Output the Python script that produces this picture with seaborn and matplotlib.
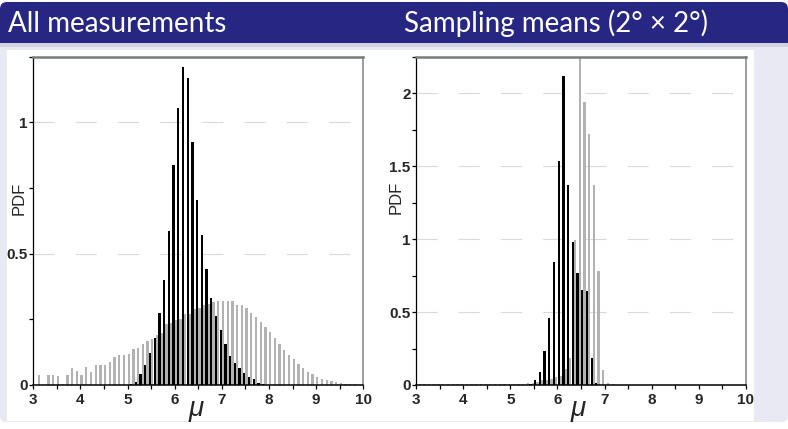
import numpy as np
import pandas as pd
import matplotlib
matplotlib.use("Agg")
import matplotlib.pyplot as plt
from matplotlib.patches import FancyBboxPatch, Rectangle
from matplotlib.transforms import IdentityTransform, blended_transform_factory
import seaborn as sns

# ---------------- data ----------------
left_mu = [round(3.0 + 0.1 * i, 2) for i in range(71)]
left_all_black = [
    0, 0, 0, 0, 0, 0, 0, 0, 0, 0,
    0, 0, 0, 0, 0, 0, 0, 0, 0, 0,
    0, 0.002, 0.010, 0.040, 0.076, 0.120, 0.180, 0.276, 0.400, 0.587,
    0.836, 1.056, 1.210, 1.170, 0.925, 0.706, 0.573, 0.441, 0.330, 0.262,
    0.209, 0.158, 0.111, 0.082, 0.063, 0.046, 0.032, 0.021, 0.009, 0.003,
    0, 0, 0, 0, 0, 0, 0, 0, 0, 0,
    0, 0, 0, 0, 0, 0, 0, 0, 0, 0,
    0,
]
left_all_gray = [
    0, 0.038, 0, 0.038, 0.038, 0.034, 0.004, 0.038, 0.063, 0.055,
    0.038, 0.067, 0.048, 0.077, 0.077, 0.077, 0.089, 0.106, 0.114, 0.115,
    0.119, 0.136, 0.141, 0.158, 0.167, 0.177, 0.189, 0.197, 0.231, 0.235,
    0.247, 0.253, 0.269, 0.270, 0.289, 0.295, 0.304, 0.310, 0.317, 0.320,
    0.321, 0.321, 0.321, 0.304, 0.304, 0.292, 0.275, 0.260, 0.241, 0.222,
    0.203, 0.180, 0.158, 0.133, 0.114, 0.098, 0.080, 0.063, 0.051, 0.041,
    0.032, 0.024, 0.019, 0.015, 0.011, 0.008, 0.005, 0.004, 0.003, 0.001,
    0,
]

right_mu = [round(3.05 + 0.1 * i, 2) for i in range(70)]
right_means_black = [
    0, 0, 0, 0, 0, 0, 0, 0, 0, 0,
    0, 0, 0, 0, 0, 0, 0, 0, 0, 0,
    0, 0, 0, 0, 0.010, 0.034, 0.091, 0.233, 0.462, 0.842,
    1.537, 2.116, 1.368, 0.979, 0.766, 0.652, 0.645, 0.188, 0.011, 0,
    0, 0, 0, 0, 0, 0, 0, 0, 0, 0,
    0, 0, 0, 0, 0, 0, 0, 0, 0, 0,
    0, 0, 0, 0, 0, 0, 0, 0, 0, 0,
]
right_means_gray = [
    0.004, 0.005, 0.004, 0.005, 0.006, 0.004, 0.005, 0.005, 0.004, 0.006,
    0.005, 0.005, 0.006, 0.005, 0.006, 0.006, 0.007, 0.006, 0.007, 0.008,
    0.008, 0.009, 0.010, 0.012, 0.014, 0.020, 0.034, 0.034, 0.039, 0.053,
    0.060, 0.110, 0.187, 0.995, 2.450, 1.940, 1.720, 1.373, 0.778, 0.103,
    0.011, 0.005, 0.003, 0.002, 0, 0, 0, 0, 0, 0,
    0, 0, 0, 0, 0, 0, 0, 0, 0, 0,
    0, 0, 0, 0, 0, 0, 0, 0, 0, 0,
]

titles = ["All measurements", "Sampling means (2° × 2°)"]
x_ticks = [3, 4, 5, 6, 7, 8, 9, 10]
left_yticks = [0, 0.5, 1]
left_ylabels = ["0", "0.5", "1"]
right_yticks = [0, 0.5, 1, 1.5, 2]
right_ylabels = ["0", "0.5", "1", "1.5", "2"]

# ---------------- style ----------------
sns.set_style("white")
plt.rcParams["font.family"] = ["Liberation Sans", "DejaVu Sans"]

W, H = 788, 429
fig = plt.figure(figsize=(W / 100, H / 100), dpi=100)
fig.patch.set_facecolor("white")

TITLE_BG = "#272783"
BODY_BG = "#e9e9f3"
ident = IdentityTransform()

def disp_y(y):
    return H - y

# block body
fig.add_artist(FancyBboxPatch((0, disp_y(422)), W, 422 - 43,
                              boxstyle="round,pad=0,rounding_size=6",
                              transform=ident, facecolor=BODY_BG, edgecolor="none", zorder=-10))
# title bar (rounded top corners)
fig.add_artist(FancyBboxPatch((0, disp_y(43)), W, 41,
                              boxstyle="round,pad=0,rounding_size=7",
                              transform=ident, facecolor=TITLE_BG, edgecolor="none", zorder=-9))
fig.add_artist(Rectangle((0, disp_y(43)), W, 18, transform=ident,
                         facecolor=TITLE_BG, edgecolor="none", zorder=-9))
fig.add_artist(Rectangle((0, disp_y(47)), W, 4, transform=ident,
                         facecolor="#d2d2e2", edgecolor="none", zorder=-9))
# white picture area
fig.add_artist(Rectangle((7, disp_y(421)), 754 - 7, 421 - 50, transform=ident,
                         facecolor="white", edgecolor="none", zorder=-8))

fig.text(8 / W, 1 - 31.7 / H, titles[0], color="white", fontsize=20,
         family=["Lato", "DejaVu Sans"], ha="left", va="baseline")
fig.text(404 / W, 1 - 31.7 / H, titles[1], color="white", fontsize=20,
         family=["Lato", "DejaVu Sans"], ha="left", va="baseline")


def make_panel(rect, mu, black, gray, ylim, yticks, ylabels, pdf_x, pdf_y):
    ax = fig.add_axes(rect)
    ax.set_facecolor("white")
    df = pd.DataFrame({
        "mu": list(mu) + list(mu),
        "pdf": list(black) + list(gray),
        "series": ["a"] * len(mu) + ["b"] * len(mu),
    })
    sns.barplot(data=df, x="mu", y="pdf", hue="series", hue_order=["a", "b"],
                palette={"a": "#000000", "b": "#b2b2b2"}, native_scale=True,
                width=0.95, dodge=True, errorbar=None, legend=False,
                saturation=1, linewidth=0, edgecolor="none", ax=ax, zorder=2)
    ax.set_xlim(3, 10)
    ax.set_ylim(*ylim)
    ax.set_xticks(x_ticks)
    ax.set_xticklabels([str(t) for t in x_ticks])
    ax.set_xticks(np.arange(3.5, 10, 1.0), minor=True)
    ax.set_yticks(yticks)
    ax.set_yticklabels(ylabels)
    ax.set_yticks([t + 0.25 for t in yticks], minor=True)
    ax.set_xlabel("")
    ax.set_ylabel("")
    ax.tick_params(axis="both", which="both", direction="out", length=3,
                   width=0.9, color="black", bottom=True, left=True)
    ax.tick_params(axis="x", which="major", pad=2.5)
    ax.tick_params(axis="y", which="major", pad=1)
    for lab in ax.get_xticklabels() + ax.get_yticklabels():
        lab.set_fontweight("bold")
        lab.set_fontsize(11)
    ax.set_axisbelow(True)
    ax.yaxis.grid(True, which="major", color="#dadada", lw=0.8,
                  linestyle=(0, (19, 19)))
    ax.xaxis.grid(False)
    ax.spines["left"].set_color("black")
    ax.spines["left"].set_linewidth(0.9)
    ax.spines["bottom"].set_color("black")
    ax.spines["bottom"].set_linewidth(1.1)
    ax.spines["top"].set_color("#7a7a7a")
    ax.spines["top"].set_linewidth(1.8)
    ax.spines["right"].set_color("#8c8c8c")
    ax.spines["right"].set_linewidth(1.2)
    for s in ax.spines.values():
        s.set_visible(True)
        s.set_zorder(5)
    tr = blended_transform_factory(ax.transData, ax.transAxes)
    ax.text(6.45, -0.0944, "μ", transform=tr, fontsize=20, fontstyle="italic",
            ha="center", va="baseline", clip_on=False)
    ax.text(pdf_x, pdf_y, "PDF", transform=ax.transAxes, fontsize=12,
            rotation=90, ha="center", va="center", clip_on=False)
    return ax


make_panel([33.3 / W, 44 / H, 330 / W, 328.3 / H], left_mu, left_all_black, left_all_gray,
           (0, 1.25), left_yticks, left_ylabels, -0.0433, 0.568)
make_panel([416.3 / W, 44 / H, 329.4 / W, 328.3 / H], right_mu, right_means_black, right_means_gray,
           (0, 2.25), right_yticks, right_ylabels, -0.0616, 0.5727)

fig.savefig("out.png", dpi=100, facecolor=fig.get_facecolor())
